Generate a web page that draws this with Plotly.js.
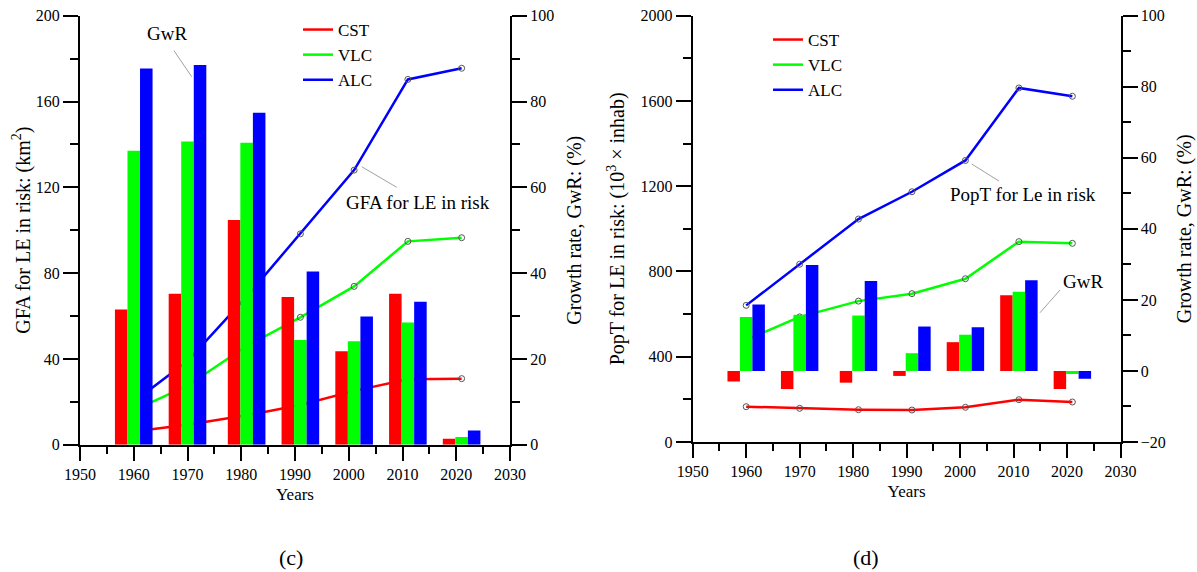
<!DOCTYPE html>
<html><head><meta charset="utf-8">
<script src="https://cdn.plot.ly/plotly-3.0.1.min.js"></script>
<style>html,body{margin:0;padding:0;background:#fff}#chart{width:1197px;height:572px}</style>
</head><body><div id="chart"></div>
<script>
// ---------- data ----------
const years = [1960, 1970, 1981, 1991, 2001, 2011, 2021];
const seriesNames = ['CST', 'VLC', 'ALC'];
const seriesColors = ['#ff0000', '#00ff00', '#0000ff'];

// (c) GFA for LE in risk (km2) - lines
const gfaCST = [6.2, 9.3, 13.7, 18.5, 25.1, 30.5, 30.8];
const gfaVLC = [16, 27.5, 46, 59.4, 73.8, 94.8, 96.5];
const gfaALC = [20, 39, 69, 98.3, 128, 170.3, 175.5];
// (c) growth rate GwR (%) - bars
const gwrGfaCST = [31.5, 35.2, 52.4, 34.4, 21.8, 35.2, 1.4];
const gwrGfaVLC = [68.5, 70.7, 70.4, 24.4, 24.1, 28.5, 1.8];
const gwrGfaALC = [87.7, 88.5, 77.4, 40.4, 29.9, 33.3, 3.3];

// (d) PopT for LE in risk (10^3 inhab) - lines
const popCST = [165.6, 158, 151.5, 150, 162.8, 198.5, 187.7];
const popVLC = [479, 587, 661, 696, 766, 940, 932];
const popALC = [641, 834, 1046, 1174, 1321, 1661, 1622];
// (d) growth rate GwR (%) - bars
const gwrPopCST = [-3.0, -5.1, -3.3, -1.4, 8.1, 21.3, -5.1];
const gwrPopVLC = [15.2, 15.8, 15.6, 5.0, 10.2, 22.3, -0.85];
const gwrPopALC = [18.7, 29.8, 25.3, 12.5, 12.3, 25.5, -2.2];

// ---------- helpers ----------
const W = 1197, H = 572;
const px = x => x / W;
const py = y => 1 - y / H;
const FONT = "'Liberation Serif', 'Times New Roman', serif";

function panelTraces(lines, bars, xa, ya, ya2, legendId) {
  const t = [];
  lines.forEach((vals, i) => {
    t.push({
      type: 'scatter', mode: 'lines', x: years, y: vals, xaxis: xa, yaxis: ya,
      name: seriesNames[i], line: {color: seriesColors[i], width: 2.5},
      legend: legendId, showlegend: true, hoverinfo: 'skip'
    });
  });
  lines.forEach((vals, i) => {
    t.push({
      type: 'scatter', mode: 'markers', x: years, y: vals, xaxis: xa, yaxis: ya,
      marker: {symbol: 'circle-open', size: 6, color: '#555', line: {width: 1, color: '#555'}},
      showlegend: false, hoverinfo: 'skip'
    });
  });
  bars.forEach((vals, i) => {
    t.push({
      type: 'bar', x: years, y: vals, xaxis: xa, yaxis: ya2,
      marker: {color: seriesColors[i], line: {width: 0}},
      showlegend: false, hoverinfo: 'skip'
    });
  });
  return t;
}

const data = [
  ...panelTraces([gfaCST, gfaVLC, gfaALC], [gwrGfaCST, gwrGfaVLC, gwrGfaALC], 'x', 'y', 'y2', 'legend'),
  ...panelTraces([popCST, popVLC, popALC], [gwrPopCST, gwrPopVLC, gwrPopALC], 'x2', 'y3', 'y4', 'legend2')
];

const axCommon = {
  showline: true, linewidth: 2, linecolor: '#000', showgrid: false, zeroline: false,
  ticks: 'outside', tickwidth: 2, tickcolor: '#000',
  tickfont: {family: FONT, size: 16, color: '#000'}
};
function xAxis(domain, anchor) {
  return Object.assign({}, axCommon, {
    domain, anchor, range: [1950, 2030], tick0: 1950, dtick: 10, ticklen: 14,
    minor: {dtick: 5, ticklen: 7, tickwidth: 2, tickcolor: '#000', ticks: 'outside'},
    title: {text: 'Years', font: {family: FONT, size: 17, color: '#000'}, standoff: 6}
  });
}
function yAxis(domain, anchor, range, dtick, minor, title, side, overlay, standoff) {
  const a = Object.assign({}, axCommon, {
    anchor, range, dtick, ticklen: 15,
    minor: {dtick: minor, ticklen: 8, tickwidth: 2, tickcolor: '#000', ticks: 'outside'},
    title: {text: title, font: {family: FONT, size: 20, color: '#000'}, standoff: standoff},
    side: side || 'left'
  });
  if (overlay) a.overlaying = overlay; else a.domain = domain;
  return a;
}

const leader = (x0, y0, x1, y1) => ({type: 'line', xref: 'paper', yref: 'paper',
  x0: px(x0), y0: py(y0), x1: px(x1), y1: py(y1), line: {color: '#888', width: 0.8}});
const note = (text, x, y, size) => ({text, xref: 'paper', yref: 'paper', x: px(x), y: py(y),
  xanchor: 'center', yanchor: 'middle', showarrow: false, font: {family: FONT, size: size || 19, color: '#000'}});

const layout = {
  width: W, height: H, margin: {l: 0, r: 0, t: 0, b: 0},
  paper_bgcolor: '#fff', plot_bgcolor: 'rgba(0,0,0,0)',
  font: {family: FONT, color: '#000'},
  barmode: 'group', bargap: 0.3, bargroupgap: 0,
  xaxis: xAxis([px(80), px(510)], 'y'),
  yaxis: yAxis([py(444.7), py(15.7)], 'x', [0, 200], 40, 20, 'GFA for LE in risk: (km<sup>2</sup>)', 'left', null, 0),
  yaxis2: yAxis(null, 'x', [0, 100], 20, 10, 'Growth rate, GwR: (%)', 'right', 'y', 14),
  xaxis2: xAxis([px(692.7), px(1120.5)], 'y3'),
  yaxis3: yAxis([py(442), py(15.7)], 'x2', [0, 2000], 400, 200, 'PopT for LE in risk: (10<sup>3</sup> × inhab)', 'left', null, 10),
  yaxis4: yAxis(null, 'x2', [-20, 100], 20, 10, 'Growth rate, GwR: (%)', 'right', 'y3', 12),
  legend: {x: px(298), y: py(12), xanchor: 'left', yanchor: 'top', bgcolor: 'rgba(0,0,0,0)',
    font: {family: FONT, size: 17, color: '#000'}, tracegroupgap: 0},
  legend2: {x: px(768), y: py(22), xanchor: 'left', yanchor: 'top', bgcolor: 'rgba(0,0,0,0)',
    font: {family: FONT, size: 17, color: '#000'}, tracegroupgap: 0},
  shapes: [
    leader(174, 50.7, 191.7, 76.7),
    leader(361.7, 166.7, 396.7, 187.3),
    leader(971.7, 164, 999, 181),
    leader(1060, 290, 1040, 312.7)
  ],
  annotations: [
    note('GwR', 166.7, 33),
    note('GFA for LE in risk', 418, 202),
    note('PopT for Le in risk', 1022.7, 195),
    note('GwR', 1083, 281),
    note('(c)', 290.5, 557, 22),
    note('(d)', 866, 557, 22)
  ]
};

Plotly.newPlot('chart', data, layout, {staticPlot: true, displayModeBar: false});
</script>
</body></html>
